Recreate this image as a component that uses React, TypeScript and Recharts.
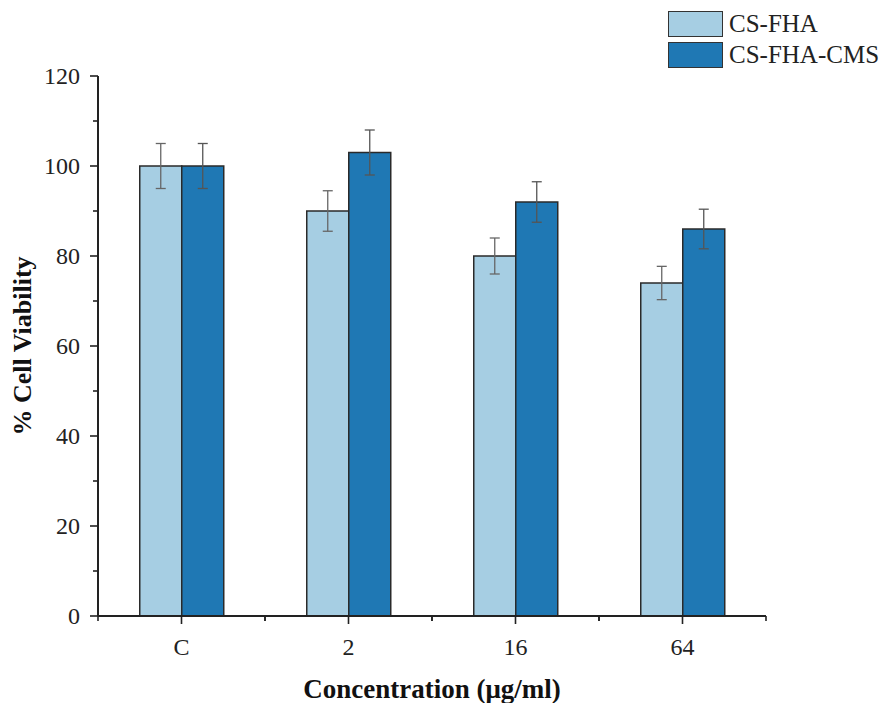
import {
  Bar,
  BarChart,
  ErrorBar,
  Label,
  Legend,
  XAxis,
  YAxis,
} from 'recharts';

const categories = ['C', '2', '16', '64'];
const fhaValues = [100, 90, 80, 74];
const fhaErrors = [5, 4.5, 4, 3.7];
const cmsValues = [100, 103, 92, 86];
const cmsErrors = [5, 5, 4.5, 4.4];
const yTicks = [0, 10, 20, 30, 40, 50, 60, 70, 80, 90, 100, 110, 120];

const seriesNames = ['CS-FHA', 'CS-FHA-CMS'];
const COLORS = ['#a6cee3', '#1f78b4'];

const W = 885;
const H = 703;
const MARGIN = { top: 76, right: 119, left: 0, bottom: 0 };
const Y_W = 98;
const X_H = 87;
const FONT = '"Liberation Serif", "Times New Roman", serif';
const AXIS = '#222';

const data = categories.map((name, i) => ({
  name,
  fha: fhaValues[i],
  fhaErr: fhaErrors[i],
  cms: cmsValues[i],
  cmsErr: cmsErrors[i],
}));

const axisX = MARGIN.left + Y_W;
const axisY = H - MARGIN.bottom - X_H;
const band = (W - MARGIN.left - MARGIN.right - Y_W) / categories.length;
const midY = MARGIN.top + (axisY - MARGIN.top) / 2;

function YTick(props: any) {
  const { y, payload } = props;
  const v = payload.value;
  const major = v % 20 === 0;
  const len = major ? 8 : 5;
  return (
    <g>
      <line x1={axisX - len} x2={axisX} y1={y} y2={y} stroke={AXIS} strokeWidth={1.6} />
      {major && (
        <text x={axisX - 18} y={y} dy="0.35em" textAnchor="end" fontSize={24} fontFamily={FONT} fill="#222">
          {v}
        </text>
      )}
    </g>
  );
}

function XTick(props: any) {
  const { x, payload } = props;
  return (
    <g>
      <line x1={x} x2={x} y1={axisY} y2={axisY + 8} stroke={AXIS} strokeWidth={1.6} />
      <line x1={x - band / 2} x2={x - band / 2} y1={axisY} y2={axisY + 5} stroke={AXIS} strokeWidth={1.6} />
      <line x1={x + band / 2} x2={x + band / 2} y1={axisY} y2={axisY + 5} stroke={AXIS} strokeWidth={1.6} />
      <text x={x} y={axisY + 31} dy="0.35em" textAnchor="middle" fontSize={24} fontFamily={FONT} fill="#222">
        {payload.value}
      </text>
    </g>
  );
}

function LegendBox() {
  return (
    <div style={{ fontFamily: FONT }}>
      {seriesNames.map((n, i) => (
        <div key={n} style={{ display: 'flex', alignItems: 'center', height: 31 }}>
          <div
            style={{
              width: 55,
              height: 26,
              background: COLORS[i],
              border: '1px solid #333',
              boxSizing: 'border-box',
              marginRight: 6,
            }}
          />
          <span style={{ fontSize: 25, color: '#222', lineHeight: '26px' }}>{n}</span>
        </div>
      ))}
    </div>
  );
}

export default function App() {
  return (
    <div style={{ position: 'absolute', left: 0, top: 0, background: '#fff' }}>
      <BarChart
        width={W}
        height={H}
        data={data}
        margin={MARGIN}
        barCategoryGap="25%"
        barGap={0}
      >
        <XAxis
          dataKey="name"
          height={X_H}
          axisLine={{ stroke: AXIS, strokeWidth: 2 }}
          tickLine={false}
          tick={<XTick />}
          interval={0}
        >
          <Label
            content={() => (
              <text
                x={axisX + band * 2}
                y={H - 14}
                dy="0.35em"
                textAnchor="middle"
                fontSize={27}
                fontWeight="bold"
                fontFamily={FONT}
                fill="#111"
              >
                Concentration (μg/ml)
              </text>
            )}
          />
        </XAxis>
        <XAxis
          xAxisId="top"
          dataKey="name"
          orientation="top"
          height={0}
          tick={false}
          tickLine={false}
          axisLine={{ stroke: AXIS, strokeWidth: 2 }}
        />
        <YAxis
          domain={[0, 120]}
          ticks={yTicks}
          interval={0}
          width={Y_W}
          axisLine={{ stroke: AXIS, strokeWidth: 2 }}
          tickLine={false}
          tick={<YTick />}
        >
          <Label
            content={() => (
              <text
                x={22}
                y={midY}
                dy="0.35em"
                textAnchor="middle"
                fontSize={26}
                fontWeight="bold"
                fontFamily={FONT}
                fill="#111"
                transform={`rotate(-90, 22, ${midY})`}
              >
                % Cell Viability
              </text>
            )}
          />
        </YAxis>
        <YAxis
          yAxisId="right"
          orientation="right"
          domain={[0, 120]}
          width={0}
          tick={false}
          tickLine={false}
          axisLine={{ stroke: AXIS, strokeWidth: 2 }}
        />
        <Legend
          layout="horizontal"
          verticalAlign="middle"
          align="center"
          wrapperStyle={{ top: 8, left: 668, width: 217 }}
          content={() => <LegendBox />}
        />
        <Bar dataKey="fha" name={seriesNames[0]} fill={COLORS[0]} stroke="#2a2a2a" strokeWidth={1.5} isAnimationActive={false}>
          <ErrorBar dataKey="fhaErr" width={5} stroke="#666" strokeWidth={1.3} />
        </Bar>
        <Bar dataKey="cms" name={seriesNames[1]} fill={COLORS[1]} stroke="#2a2a2a" strokeWidth={1.5} isAnimationActive={false}>
          <ErrorBar dataKey="cmsErr" width={5} stroke="#555" strokeWidth={1.3} />
        </Bar>
      </BarChart>
    </div>
  );
}
